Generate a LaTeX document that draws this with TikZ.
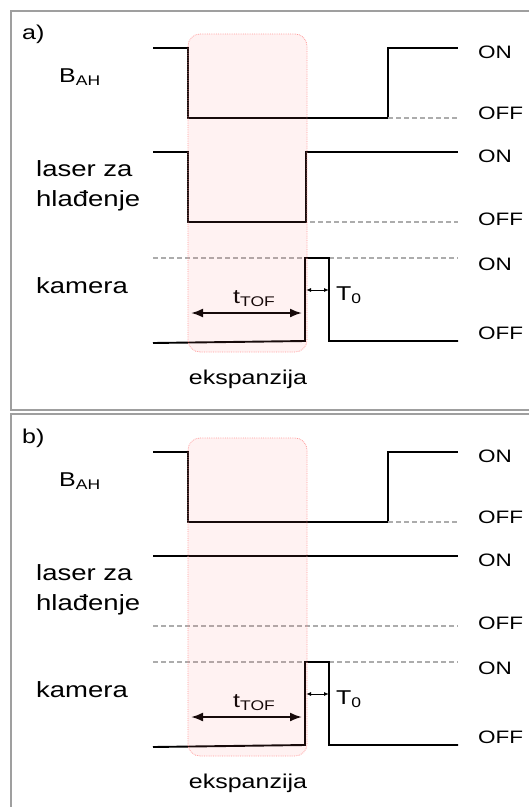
\documentclass[tikz,border=0pt]{standalone}
\usepackage{fontspec}
\setmainfont{Liberation Sans}
\usepackage{graphicx}
\usetikzlibrary{arrows.meta,positioning}
\newcommand{\wid}[1]{\scalebox{1.25}[1]{#1}}

\begin{document}
\begin{tikzpicture}[
x=1pt,
y=-1pt,
sig/.style={line width=1.9pt},
lvl/.style={draw=gray!65,line width=1.1pt,dash pattern=on 5pt off 3pt},
win/.style={draw=red!40,densely dotted,line width=0.8pt,rounded corners=12pt,fill=red!55,fill opacity=0.09},
frm/.style={draw=gray!75,line width=2pt},
lbl/.style={inner sep=0pt,anchor=base west},
big/.style={lbl,font=\fontsize{22}{26}\selectfont},
mid/.style={lbl,font=\fontsize{20}{24}\selectfont},
sml/.style={lbl,font=\fontsize{18}{22}\selectfont},
tof/.style={{Latex[length=12pt,width=9pt]}-{Latex[length=12pt,width=9pt]},line width=2pt},
gap/.style={{Latex[length=5pt,width=4pt]}-{Latex[length=5pt,width=4pt]},line width=1pt}
]
\useasboundingbox (0,0) rectangle (529,807);
\clip (0,0) rectangle (529,807);

% panel frames
\draw[frm] (11,11) rectangle (540,410);
\draw[frm] (11,414) rectangle (540,820);

% a) signals
\draw[sig] (153,48) -- (188,48) -- (188,118) -- (388,118) -- (388,48) -- (458,48);
\draw[lvl] (388,118) -- (458,118);
\draw[sig] (153,152) -- (188,152) -- (188,222) -- (306,222) -- (306,152) -- (458,152);
\draw[lvl] (310,222) -- (458,222);
\draw[lvl] (153,258) -- (458,258);
\draw[sig] (153,343) -- (305,341) -- (305,258) -- (329,258) -- (329,341) -- (458,341);

% a) labels
\node[mid] (taga) at (22,39) {\wid{a)}};
\node[mid] (baha) at (59,82) {\wid{B\textsubscript{AH}}};
\node[big] (lasa) at (36,176) {\wid{laser za}};
\node[big] (hlaa) at (36,206) {\wid{hlađenje}};
\node[big] (kama) at (36,293) {\wid{kamera}};
\node[sml] (bona) at (478,58) {\wid{ON}};
\node[sml] (boffa) at (478,119) {\wid{OFF}};
\node[sml] (lona) at (478,162) {\wid{ON}};
\node[sml] (loffa) at (478,225) {\wid{OFF}};
\node[sml] (kona) at (478,270) {\wid{ON}};
\node[sml] (koffa) at (478,339) {\wid{OFF}};
\node[mid] (ttofa) at (233,303) {\wid{t\textsubscript{TOF}}};
\node[mid] (tnula) at (336,300) {\wid{T\textsubscript{0}}};
\node[mid,anchor=base] (ekspa) at (248,384) {\wid{ekspanzija}};

% a) times
\coordinate (tofla) at (191,313);
\coordinate (tofra) at (302,313);
\draw[tof] (tofla) -- (tofra);
\coordinate (gapla) at (306,290);
\coordinate (gapra) at (329,290);
\draw[gap] (gapla) -- (gapra);

% a) expansion window
\draw[win] (188,34) rectangle (307,352);

% b) signals
\draw[sig] (153,452) -- (188,452) -- (188,522) -- (388,522) -- (388,452) -- (458,452);
\draw[lvl] (388,522) -- (458,522);
\draw[sig] (153,556) -- (458,556);
\draw[lvl] (153,626) -- (458,626);
\draw[lvl] (153,662) -- (458,662);
\draw[sig] (153,747) -- (305,745) -- (305,662) -- (329,662) -- (329,745) -- (458,745);

% b) labels
\node[mid] (tagb) at (22,443) {\wid{b)}};
\node[mid] (bahb) at (59,486) {\wid{B\textsubscript{AH}}};
\node[big] (lasb) at (36,580) {\wid{laser za}};
\node[big] (hlab) at (36,610) {\wid{hlađenje}};
\node[big] (kamb) at (36,697) {\wid{kamera}};
\node[sml] (bonb) at (478,462) {\wid{ON}};
\node[sml] (boffb) at (478,523) {\wid{OFF}};
\node[sml] (lonb) at (478,566) {\wid{ON}};
\node[sml] (loffb) at (478,629) {\wid{OFF}};
\node[sml] (konb) at (478,674) {\wid{ON}};
\node[sml] (koffb) at (478,743) {\wid{OFF}};
\node[mid] (ttofb) at (233,707) {\wid{t\textsubscript{TOF}}};
\node[mid] (tnulb) at (336,704) {\wid{T\textsubscript{0}}};
\node[mid,anchor=base] (ekspb) at (248,788) {\wid{ekspanzija}};

% b) times
\coordinate (toflb) at (191,717);
\coordinate (tofrb) at (302,717);
\draw[tof] (toflb) -- (tofrb);
\coordinate (gaplb) at (306,694);
\coordinate (gaprb) at (329,694);
\draw[gap] (gaplb) -- (gaprb);

% b) expansion window
\draw[win] (188,438) rectangle (307,756);
\end{tikzpicture}
\end{document}
